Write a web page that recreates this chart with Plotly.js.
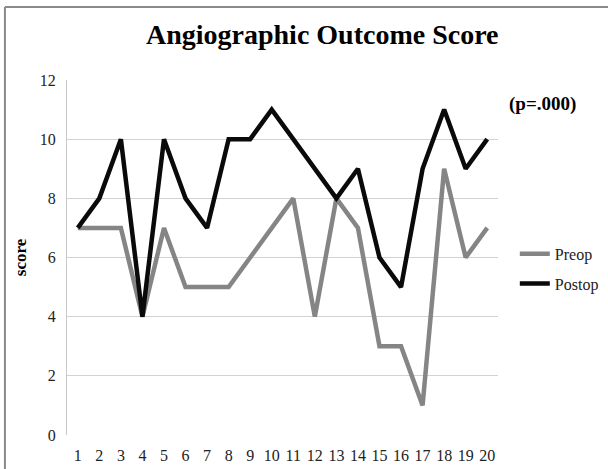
<!DOCTYPE html>
<html>
<head>
<meta charset="utf-8">
<script src="https://cdn.plot.ly/plotly-3.0.1.min.js"></script>
<style>
  html, body { margin: 0; padding: 0; background: #fff; }
  #chart { width: 608px; height: 469px; }
</style>
</head>
<body>
<div id="chart"></div>
<script>
const cases = [1,2,3,4,5,6,7,8,9,10,11,12,13,14,15,16,17,18,19,20];
const preop = [7,7,7,4,7,5,5,5,6,7,8,4,8,7,3,3,1,9,6,7];
const postop = [7,8,10,4,10,8,7,10,10,11,10,9,8,9,6,5,9,11,9,10];
const yTicks = [0,2,4,6,8,10,12];

const serif = "Liberation Serif, Times New Roman, serif";

const traces = [
  { x: cases, y: preop, name: "Preop", type: "scatter", mode: "lines",
    line: { color: "#858585", width: 4.5 }, legendgroup: "a" },
  { x: cases, y: postop, name: "Postop", type: "scatter", mode: "lines",
    line: { color: "#0a0a0a", width: 4.5 }, legendgroup: "b" }
];

const layout = {
  width: 608, height: 469,
  margin: { l: 67, r: 110, t: 80, b: 34, autoexpand: false },
  paper_bgcolor: "#fff", plot_bgcolor: "#fff",
  font: { family: serif, color: "#222", size: 16 },
  title: { text: "<b>Angiographic Outcome Score</b>", font: { family: serif, size: 28, color: "#000" },
           x: 0.53, xanchor: "center", y: 0.928, yanchor: "middle", xref: "container" },
  xaxis: { range: [0.5, 20.5], tickmode: "array", tickvals: cases, ticktext: cases.map(String),
           showgrid: false, zeroline: false, showline: false, ticks: "", automargin: false,
           ticklabelstandoff: 9, tickfont: { size: 16, family: serif, color: "#222" }, fixedrange: true },
  yaxis: { range: [0, 12], tickmode: "array", tickvals: yTicks, ticktext: yTicks.map(String),
           showgrid: true, gridcolor: "#d2d2d2", gridwidth: 1, zeroline: false,
           showline: true, linecolor: "#c8c8c8", linewidth: 1, ticks: "", automargin: false,
           ticklabelstandoff: 7, tickfont: { size: 16, family: serif, color: "#222" },
           title: { text: "<b>score</b>", font: { family: serif, size: 17, color: "#000" }, standoff: 8 },
           fixedrange: true },
  showlegend: true,
  legend: { x: 1.039, xanchor: "left", y: 0.558, yanchor: "top", traceorder: "grouped",
            tracegroupgap: 6, font: { family: serif, size: 16, color: "#222" },
            bgcolor: "rgba(0,0,0,0)" },
  annotations: [
    { text: "<b>(p=.000)</b>", xref: "paper", yref: "paper", x: 1.104, y: 0.932,
      xanchor: "center", yanchor: "middle", showarrow: false,
      font: { family: serif, size: 19, color: "#000" } }
  ],
  shapes: [
    { type: "line", xref: "paper", yref: "paper", x0: -0.144, x1: 1.3, y0: 1.2056, y1: 1.2056,
      line: { color: "#8a8a8a", width: 2 } },
    { type: "line", xref: "paper", yref: "paper", x0: -0.144, x1: -0.144, y0: -0.2, y1: 1.2056,
      line: { color: "#8a8a8a", width: 2 } }
  ]
};

Plotly.newPlot("chart", traces, layout, { displayModeBar: false, staticPlot: true });
</script>
</body>
</html>
